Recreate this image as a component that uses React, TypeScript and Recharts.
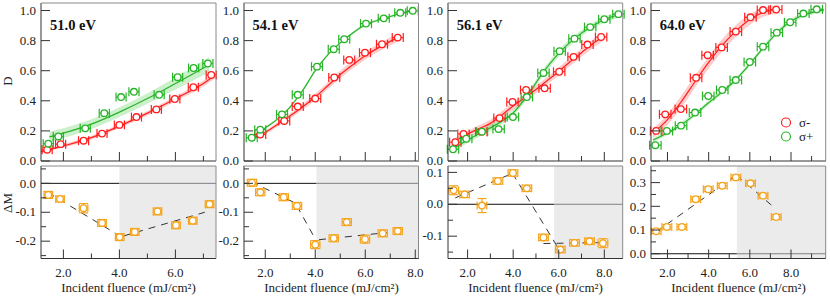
import React from "react";
import {
  ComposedChart,
  Line,
  Area,
  Scatter,
  ErrorBar,
  XAxis,
  YAxis,
  ReferenceArea,
  ReferenceLine,
} from "recharts";

const SERIF = "'Liberation Serif', 'Times New Roman', serif";
const RED = "#ff1f1f";
const GREEN = "#26b426";
const ORANGE = "#f5a41e";
const AXIS = "#333";
const FRAME = "#8a8a8a";
const INK = "#222";

// panel setup
const ENERGIES = ["51.0 eV", "54.1 eV", "56.1 eV", "64.0 eV"];
const X_DOMAINS = [[1.2, 7.45], [1.15, 8.15], [1.14, 8.82], [1.2, 9.7]];
const X_TICKS = [
  [2, 3, 4, 5, 6, 7],
  [2, 3, 4, 5, 6, 7, 8],
  [2, 3, 4, 5, 6, 7, 8],
  [2, 3, 4, 5, 6, 7, 8, 9],
];
const SHADE_FROM = [4.0, 4.05, 5.8, 5.37];
const D_TICKS = [0, 0.2, 0.4, 0.6, 0.8, 1.0];
const DM_DOMAINS = [[-0.26, 0.06], [-0.26, 0.06], [-0.17, 0.12], [-0.02, 0.37]];
const DM_TICKS = [
  [-0.25, -0.2, -0.15, -0.1, -0.05, 0, 0.05],
  [-0.25, -0.2, -0.15, -0.1, -0.05, 0, 0.05],
  [-0.15, -0.1, -0.05, 0, 0.05, 0.1],
  [0, 0.05, 0.1, 0.15, 0.2, 0.25, 0.3, 0.35],
];
const X_ERR = [0.18, 0.22, 0.25, 0.28];

// D, sigma- (red)
const RED_X = [
  [1.42, 1.9, 2.72, 3.38, 4.0, 4.61, 5.32, 5.98, 6.64, 7.28],
  [1.8, 2.76, 3.3, 4.0, 4.76, 5.36, 5.99, 6.67, 7.3],
  [1.46, 1.82, 2.6, 3.4, 3.97, 4.57, 5.38, 6.02, 6.65, 7.26, 7.86],
  [1.45, 1.89, 2.65, 3.39, 3.95, 4.63, 5.32, 6.03, 6.64, 7.28],
];
const RED_D = [
  [0.075, 0.112, 0.135, 0.182, 0.24, 0.292, 0.343, 0.412, 0.49, 0.572],
  [0.176, 0.266, 0.362, 0.415, 0.555, 0.672, 0.72, 0.776, 0.82],
  [0.125, 0.18, 0.195, 0.285, 0.392, 0.472, 0.483, 0.593, 0.692, 0.774, 0.824],
  [0.2, 0.31, 0.345, 0.553, 0.703, 0.755, 0.86, 0.955, 1.003, 1.006],
];

// D, sigma+ (green)
const GREEN_X = [
  [1.46, 1.82, 2.78, 3.46, 4.06, 4.52, 5.42, 6.08, 6.65, 7.16],
  [1.46, 1.8, 2.67, 3.3, 4.07, 4.74, 5.16, 6.03, 6.74, 7.4, 7.9],
  [1.36, 1.94, 2.63, 3.36, 3.99, 4.6, 5.33, 6.04, 6.69, 7.38, 8.0, 8.62],
  [1.41, 1.97, 2.66, 3.34, 3.98, 4.66, 5.32, 6.0, 6.64, 7.31, 7.96, 8.6, 9.25],
];
const GREEN_D = [
  [0.115, 0.163, 0.217, 0.318, 0.425, 0.46, 0.44, 0.557, 0.618, 0.648],
  [0.155, 0.208, 0.31, 0.44, 0.627, 0.743, 0.809, 0.913, 0.948, 0.985, 0.998],
  [0.078, 0.148, 0.195, 0.212, 0.292, 0.425, 0.585, 0.73, 0.813, 0.89, 0.942, 0.976],
  [0.105, 0.2, 0.235, 0.322, 0.432, 0.472, 0.538, 0.658, 0.76, 0.853, 0.922, 0.98, 1.008],
];

// fitted curves with confidence band half-widths
const RED_FIT_X = [
  [1.2, 2, 3, 4, 5, 6, 7, 7.45],
  [1.6, 2, 2.5, 3, 3.5, 4, 4.5, 5, 5.5, 6, 6.5, 7, 7.3],
  [1.4, 2, 2.5, 3, 3.5, 4, 4.5, 5, 5.5, 6, 6.5, 7, 7.5, 7.9],
  [1.3, 2, 2.65, 3.4, 4, 4.6, 5.3, 6, 6.6, 7.4],
];
const RED_FIT_D = [
  [0.062, 0.1, 0.155, 0.232, 0.318, 0.414, 0.515, 0.575],
  [0.16, 0.19, 0.245, 0.3, 0.36, 0.425, 0.5, 0.575, 0.64, 0.7, 0.75, 0.795, 0.82],
  [0.13, 0.18, 0.215, 0.25, 0.305, 0.365, 0.42, 0.475, 0.535, 0.595, 0.66, 0.72, 0.78, 0.82],
  [0.185, 0.275, 0.39, 0.54, 0.655, 0.76, 0.86, 0.94, 0.985, 1.01],
];
const RED_FIT_E = [
  [0.01, 0.011, 0.012, 0.013, 0.015, 0.017, 0.02, 0.022],
  [0.012, 0.013, 0.015, 0.017, 0.02, 0.022, 0.024, 0.025, 0.026, 0.026, 0.026, 0.027, 0.028],
  [0.02, 0.02, 0.022, 0.024, 0.025, 0.025, 0.025, 0.025, 0.025, 0.026, 0.027, 0.028, 0.029, 0.03],
  [0.03, 0.035, 0.04, 0.04, 0.04, 0.04, 0.04, 0.035, 0.03, 0.03],
];
const GREEN_FIT_X = [
  [1.5, 2, 3, 4, 5, 6, 7, 7.2],
  [1.45, 2, 2.5, 3, 3.5, 4, 4.5, 5, 5.5, 6, 6.5, 7, 7.5, 7.9],
  [1.3, 2, 2.6, 3.3, 4.0, 4.6, 5.3, 6.0, 6.7, 7.4, 8.0, 8.7],
  [1.3, 1.97, 2.66, 3.34, 3.98, 4.66, 5.32, 6.0, 6.64, 7.31, 7.96, 8.6, 9.25, 9.6],
];
const GREEN_FIT_D = [
  [0.16, 0.185, 0.245, 0.325, 0.415, 0.515, 0.618, 0.64],
  [0.155, 0.22, 0.28, 0.36, 0.47, 0.6, 0.705, 0.785, 0.85, 0.905, 0.935, 0.96, 0.985, 0.998],
  [0.075, 0.14, 0.19, 0.245, 0.32, 0.43, 0.585, 0.715, 0.815, 0.89, 0.94, 0.975],
  [0.14, 0.185, 0.24, 0.31, 0.385, 0.46, 0.54, 0.645, 0.75, 0.85, 0.925, 0.97, 0.995, 1.005],
];
const GREEN_FIT_E = [
  [0.035, 0.033, 0.032, 0.032, 0.035, 0.04, 0.048, 0.05],
  [0.008, 0.008, 0.008, 0.008, 0.008, 0.008, 0.008, 0.008, 0.008, 0.008, 0.008, 0.008, 0.008, 0.008],
  [0.02, 0.02, 0.02, 0.02, 0.02, 0.022, 0.022, 0.022, 0.022, 0.02, 0.02, 0.02],
  [0.015, 0.015, 0.015, 0.015, 0.015, 0.015, 0.015, 0.015, 0.015, 0.015, 0.015, 0.015, 0.015, 0.015],
];

// Delta M
const DM_X = [
  [1.46, 1.88, 2.72, 3.38, 4.01, 4.55, 5.36, 6.02, 6.62, 7.22],
  [1.47, 1.8, 2.74, 3.27, 4.0, 4.74, 5.26, 5.99, 6.7, 7.3],
  [1.39, 1.87, 2.63, 3.33, 3.99, 4.6, 5.33, 6.07, 6.69, 7.35, 7.94],
  [1.45, 1.97, 2.7, 3.37, 3.98, 4.66, 5.32, 6.03, 6.64, 7.28],
];
const DM_Y = [
  [-0.04, -0.054, -0.086, -0.137, -0.186, -0.168, -0.097, -0.145, -0.129, -0.072],
  [0.002, -0.031, -0.048, -0.078, -0.212, -0.19, -0.134, -0.193, -0.173, -0.165],
  [0.044, 0.031, -0.004, 0.073, 0.098, 0.05, -0.104, -0.142, -0.121, -0.116, -0.122],
  [0.095, 0.113, 0.113, 0.23, 0.272, 0.287, 0.322, 0.297, 0.245, 0.155],
];
const DM_ERR = [
  [0.012, 0.01, 0.016, 0.012, 0.012, 0.012, 0.012, 0.012, 0.012, 0.012],
  [0.012, 0.012, 0.012, 0.012, 0.014, 0.012, 0.012, 0.014, 0.012, 0.012],
  [0.014, 0.01, 0.022, 0.01, 0.01, 0.01, 0.01, 0.01, 0.01, 0.01, 0.014],
  [0.01, 0.01, 0.01, 0.01, 0.01, 0.01, 0.01, 0.01, 0.01, 0.01],
];

// dashed guide segments in the Delta M panels
const TREND_X = [
  [[1.45, 3.98], [4.15, 7.05]],
  [[1.45, 3.2, 4.05], [4.15, 6.9]],
  [[1.46, 3.97], [3.97, 6.0], [5.33, 8.04]],
  [[1.45, 5.35], [5.35, 7.25]],
];
const TREND_Y = [
  [[-0.032, -0.18], [-0.182, -0.1]],
  [[0.005, -0.068, -0.2], [-0.195, -0.17]],
  [[0.02, 0.097], [0.097, -0.14], [-0.123, -0.12]],
  [[0.092, 0.332], [0.332, 0.19]],
];

// layout
const PLOT_LEFT = [41, 243.5, 447.7, 650.7];
const PLOT_W = 175;
const AXIS_W = 40;
const RIGHT_PAD = 14;
const TOP_Y0 = 3;
const TOP_Y1 = 161;
const TOP_AXIS_H = 10;
const BOT_TOP = 163;
const BOT_Y0 = 166;
const BOT_Y1 = 258.5;

const points = (xs: number[], ys: number[], ex: number, eys?: number[]) =>
  xs.map((x, i) => ({ x, y: ys[i], ex, ey: eys ? eys[i] : 0 }));
const band = (xs: number[], ys: number[], es: number[]) =>
  xs.map((x, i) => ({ x, y: ys[i], band: [ys[i] - es[i], ys[i] + es[i]] }));

const XTick = (props: any) => {
  const { x, y, payload, labels } = props;
  const v = payload.value;
  const major = Math.round(v) % 2 === 0;
  return (
    <g>
      <line x1={x} x2={x} y1={y} y2={y - (major ? 9 : 5)} stroke={AXIS} strokeWidth={1} />
      {labels && major ? (
        <text x={x} y={y + 18} textAnchor="middle" fontFamily={SERIF} fontSize={13} fill={INK}>
          {v.toFixed(1)}
        </text>
      ) : null}
    </g>
  );
};

const YTick = (props: any) => {
  const { x, y, payload, allMajor } = props;
  const v = payload.value;
  const major = allMajor || Math.abs(Math.round(v * 20)) % 2 === 0;
  return (
    <g>
      <line x1={x} x2={x + (major ? 9 : 5)} y1={y} y2={y} stroke={AXIS} strokeWidth={1} />
      {major ? (
        <text x={x - 5} y={y + 4.2} textAnchor="end" fontFamily={SERIF} fontSize={13} fill={INK}>
          {v.toFixed(1)}
        </text>
      ) : null}
    </g>
  );
};

const dot = (color: string) => (p: any) =>
  <circle cx={p.cx} cy={p.cy} r={3.3} fill="#fff" stroke={color} strokeWidth={1.3} />;

function TopPanel({ i }: { i: number }) {
  const fits = [
    { d: band(RED_FIT_X[i], RED_FIT_D[i], RED_FIT_E[i]), c: RED, f: "rgba(255,70,70,0.28)" },
    { d: band(GREEN_FIT_X[i], GREEN_FIT_D[i], GREEN_FIT_E[i]), c: GREEN, f: "rgba(70,200,70,0.28)" },
  ];
  return (
    <div style={{ position: "absolute", left: PLOT_LEFT[i] - AXIS_W, top: 0 }}>
      <ComposedChart
        width={AXIS_W + PLOT_W + RIGHT_PAD}
        height={TOP_Y1 + TOP_AXIS_H}
        margin={{ top: TOP_Y0, right: RIGHT_PAD, bottom: 0, left: 0 }}
      >
        <XAxis
          type="number"
          dataKey="x"
          domain={X_DOMAINS[i]}
          ticks={X_TICKS[i]}
          interval={0}
          allowDataOverflow
          height={TOP_AXIS_H}
          tickSize={0}
          tickMargin={0}
          tickLine={false}
          axisLine={{ stroke: AXIS }}
          tick={(p: any) => <XTick {...p} labels={false} />}
        />
        <YAxis
          type="number"
          dataKey="y"
          domain={[0, 1.05]}
          ticks={D_TICKS}
          interval={0}
          allowDataOverflow
          width={AXIS_W}
          tickSize={0}
          tickMargin={0}
          tickLine={false}
          axisLine={{ stroke: AXIS }}
          tick={(p: any) => <YTick {...p} allMajor />}
        />
        {fits.map((f, k) => (
          <Area
            key={`band-${k}`}
            data={f.d}
            dataKey="band"
            type="monotone"
            stroke="none"
            fill={f.f}
            fillOpacity={1}
            isAnimationActive={false}
          />
        ))}
        {fits.map((f, k) => (
          <Line
            key={`fit-${k}`}
            data={f.d}
            dataKey="y"
            type="monotone"
            stroke={f.c}
            strokeWidth={1.2}
            dot={false}
            isAnimationActive={false}
          />
        ))}
        <Scatter data={points(RED_X[i], RED_D[i], X_ERR[i])} fill={RED} shape={dot(RED)} isAnimationActive={false}>
          <ErrorBar dataKey="ex" direction="x" width={4.5} stroke={RED} strokeWidth={1.2} isAnimationActive={false} />
        </Scatter>
        <Scatter data={points(GREEN_X[i], GREEN_D[i], X_ERR[i])} fill={GREEN} shape={dot(GREEN)} isAnimationActive={false}>
          <ErrorBar dataKey="ex" direction="x" width={4.5} stroke={GREEN} strokeWidth={1.2} isAnimationActive={false} />
        </Scatter>
      </ComposedChart>
    </div>
  );
}

function BottomPanel({ i }: { i: number }) {
  const [x0, x1] = X_DOMAINS[i];
  const [y0, y1] = DM_DOMAINS[i];
  const trends = TREND_X[i].map((xs, k) => xs.map((x, j) => ({ x, y: TREND_Y[i][k][j] })));
  return (
    <div style={{ position: "absolute", left: PLOT_LEFT[i] - AXIS_W, top: BOT_TOP }}>
      <ComposedChart
        width={AXIS_W + PLOT_W + RIGHT_PAD}
        height={296 - BOT_TOP}
        margin={{ top: BOT_Y0 - BOT_TOP, right: RIGHT_PAD, bottom: 0, left: 0 }}
      >
        <XAxis
          type="number"
          dataKey="x"
          domain={X_DOMAINS[i]}
          ticks={X_TICKS[i]}
          interval={0}
          allowDataOverflow
          height={296 - BOT_Y1}
          tickSize={0}
          tickMargin={0}
          tickLine={false}
          axisLine={{ stroke: AXIS }}
          tick={(p: any) => <XTick {...p} labels />}
          label={{
            value: "Incident fluence (mJ/cm²)",
            position: "insideBottom",
            offset: 4,
            style: { fontFamily: SERIF, fontSize: 13, fill: INK },
          }}
        />
        <YAxis
          type="number"
          dataKey="y"
          domain={DM_DOMAINS[i]}
          ticks={DM_TICKS[i]}
          interval={0}
          allowDataOverflow
          width={AXIS_W}
          tickSize={0}
          tickMargin={0}
          tickLine={false}
          axisLine={{ stroke: AXIS }}
          tick={(p: any) => <YTick {...p} allMajor={false} />}
        />
        <ReferenceArea x1={SHADE_FROM[i]} x2={x1} y1={y0} y2={y1} fill="#ebebeb" fillOpacity={1} stroke="none" />
        <ReferenceLine segment={[{ x: x0, y: 0 }, { x: SHADE_FROM[i], y: 0 }]} stroke="#111" strokeWidth={1} />
        <ReferenceLine segment={[{ x: SHADE_FROM[i], y: 0 }, { x: x1, y: 0 }]} stroke="#808080" strokeWidth={1} />
        {trends.map((t, k) => (
          <Line
            key={`trend-${k}`}
            data={t}
            dataKey="y"
            type="linear"
            stroke="#333"
            strokeWidth={1}
            strokeDasharray="7 6"
            dot={false}
            isAnimationActive={false}
          />
        ))}
        <Scatter
          data={points(DM_X[i], DM_Y[i], X_ERR[i] * 0.85, DM_ERR[i])}
          fill={ORANGE}
          shape={dot(ORANGE)}
          isAnimationActive={false}
        >
          <ErrorBar dataKey="ex" direction="x" width={4} stroke={ORANGE} strokeWidth={1.2} isAnimationActive={false} />
          <ErrorBar dataKey="ey" direction="y" width={4.5} stroke={ORANGE} strokeWidth={1.2} isAnimationActive={false} />
        </Scatter>
      </ComposedChart>
    </div>
  );
}

export default function App() {
  return (
    <div style={{ position: "relative", width: 830, height: 296, background: "#fff", overflow: "hidden" }}>
      <style>{"body{margin:0}"}</style>
      {ENERGIES.map((_, i) => (
        <TopPanel key={`t${i}`} i={i} />
      ))}
      {ENERGIES.map((_, i) => (
        <BottomPanel key={`b${i}`} i={i} />
      ))}
      <svg width={830} height={296} style={{ position: "absolute", left: 0, top: 0, pointerEvents: "none" }}>
        {PLOT_LEFT.map((l, i) => (
          <g key={i}>
            <path d={`M${l} ${TOP_Y0}H${l + PLOT_W}V${TOP_Y1}`} fill="none" stroke={FRAME} strokeWidth={1} />
            <path d={`M${l} ${BOT_Y0}H${l + PLOT_W}V${BOT_Y1}`} fill="none" stroke={FRAME} strokeWidth={1} />
            <text x={l + 9} y={30} fontFamily={SERIF} fontWeight="bold" fontSize={14.5} fill="#111">
              {ENERGIES[i]}
            </text>
          </g>
        ))}
        <text x={12} y={81} transform="rotate(-90 12 81)" textAnchor="middle" fontFamily={SERIF} fontSize={13} fill={INK}>
          D
        </text>
        <text x={12} y={203} transform="rotate(-90 12 203)" textAnchor="middle" fontFamily={SERIF} fontSize={13} fill={INK}>
          ΔM
        </text>
        <circle cx={786} cy={122.5} r={4.5} fill="#fff" stroke={RED} strokeWidth={1.2} />
        <text x={799} y={127} fontFamily={SERIF} fontSize={13} fill={INK}>σ-</text>
        <circle cx={786} cy={136.5} r={4.5} fill="#fff" stroke={GREEN} strokeWidth={1.2} />
        <text x={799} y={141} fontFamily={SERIF} fontSize={13} fill={INK}>σ+</text>
      </svg>
    </div>
  );
}
